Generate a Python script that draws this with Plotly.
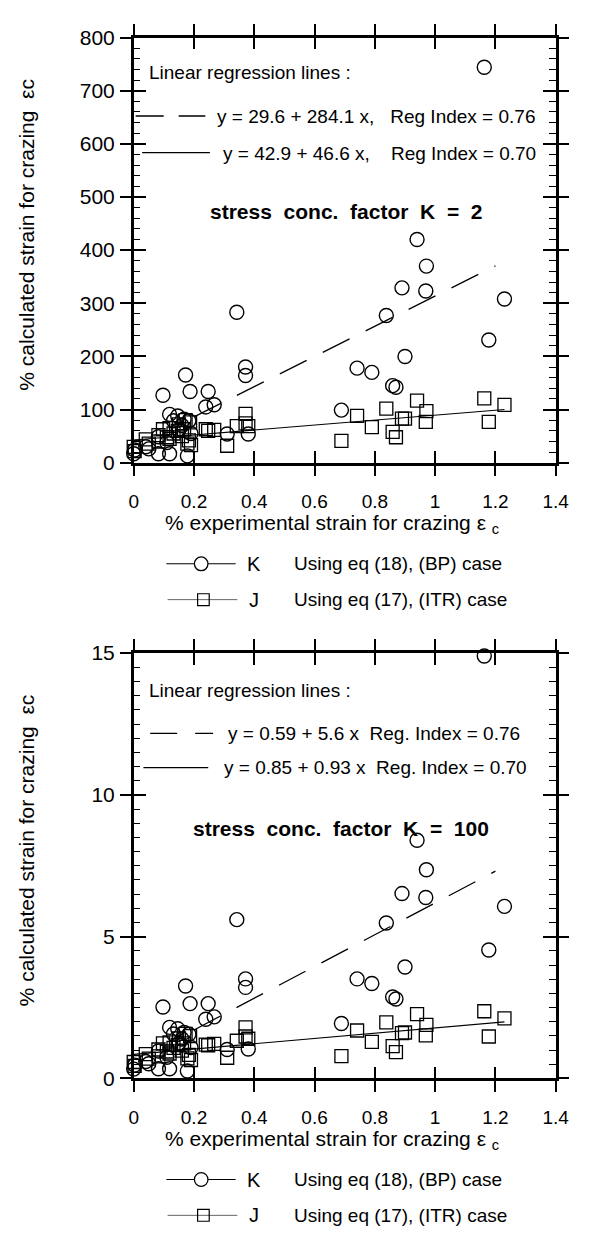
import numpy as np
import plotly.graph_objects as go

W, H = 591, 1234
FONT = "Liberation Sans, Arial, Helvetica, sans-serif"

# ---------------- data ----------------
strain_exp = [0.000, 0.003, 0.040, 0.050, 0.082, 0.082, 0.097, 0.110, 0.119, 0.119,
              0.132, 0.146, 0.150, 0.160, 0.167, 0.172, 0.178, 0.183, 0.187, 0.190,
              0.239, 0.247, 0.267, 0.310, 0.342, 0.371, 0.371, 0.380, 0.689, 0.741,
              0.790, 0.838, 0.859, 0.870, 0.890, 0.900, 0.940, 0.969, 0.971, 1.163,
              1.178, 1.230]

calc_K_k2 = [17, 24, 30, 26, 49, 17, 127, 38, 91, 17,
             79, 88, 62, 70, 82, 165, 13, 79, 134, 55,
             105, 134, 109, 54, 283, 180, 164, 54, 99, 178,
             170, 277, 145, 142, 329, 200, 420, 323, 370, 744,
             231, 308]
calc_J_k2 = [30, 22, 44, 36, 52, 40, 63, 48, 65, 45,
             55, 60, 72, 50, 63, 80, 36, 42, 76, 33,
             63, 60, 62, 32, 69, 92, 74, 69, 41, 88,
             67, 102, 58, 48, 83, 83, 117, 77, 97, 121,
             77, 109]

calc_K_k100 = [0.33, 0.47, 0.60, 0.52, 0.97, 0.34, 2.52, 0.75, 1.80, 0.34,
               1.57, 1.75, 1.23, 1.39, 1.62, 3.26, 0.26, 1.56, 2.64, 1.09,
               2.09, 2.64, 2.17, 1.02, 5.60, 3.51, 3.21, 1.04, 1.94, 3.51,
               3.35, 5.48, 2.87, 2.80, 6.52, 3.93, 8.40, 6.38, 7.36, 14.9,
               4.53, 6.07]
calc_J_k100 = [0.58, 0.44, 0.86, 0.70, 1.02, 0.78, 1.24, 0.95, 1.27, 0.88,
               1.08, 1.18, 1.41, 0.98, 1.24, 1.57, 0.71, 0.83, 1.49, 0.65,
               1.19, 1.17, 1.22, 0.73, 1.33, 1.80, 1.48, 1.40, 0.79, 1.69,
               1.29, 1.98, 1.14, 0.93, 1.60, 1.62, 2.27, 1.52, 1.89, 2.37,
               1.48, 2.12]

# regression lines: intercept, slope ; x extent drawn
reg_K_k2 = [29.6, 284.1]
reg_J_k2 = [42.9, 46.6]
reg_K_k100 = [0.59, 5.6]
reg_J_k100 = [0.85, 0.93]
reg_K_span = [0.2, 1.2]
reg_J_span = [0.0, 1.23]

x_range = [0, 1.4]
x_dtick = 0.2
y_range_k2 = [0, 800]
y_dtick_k2 = 100
y_minor_k2 = 20
y_range_k100 = [0, 15]
y_dtick_k100 = 5
y_minor_k100 = 0.5

eq_K_k2 = "y = 29.6 + 284.1 x,   Reg Index = 0.76"
eq_J_k2 = "y = 42.9 + 46.6 x,    Reg Index = 0.70"
eq_K_k100 = "y = 0.59 + 5.6 x  Reg. Index = 0.76"
eq_J_k100 = "y = 0.85 + 0.93 x  Reg. Index = 0.70"
title_k2 = "stress  conc.  factor  K  =  2"
title_k100 = "stress  conc.  factor  K  =  100"
legend_K = "Using eq (18), (BP) case"
legend_J = "Using eq (17), (ITR) case"
xtitle = "% experimental strain for crazing ε <sub>c</sub>"
ytitle = "% calculated strain for crazing  εc"


def px(x):
    return x / W


def py(y):
    return 1 - y / H


# plot-area positions (pixels)
X0, X1 = 133, 569
TOP = (26, 459.3)
BOT = (653.3, 1086.7)

fig = go.Figure()


def add_panel(xa, ya, yK, yJ, regK, regJ):
    xr = np.array(reg_K_span)
    fig.add_trace(go.Scatter(x=xr, y=regK[0] + regK[1] * xr, mode="lines",
                             line=dict(color="black", width=1.3, dash="30px,18px"),
                             xaxis=xa, yaxis=ya, showlegend=False, hoverinfo="skip"))
    xr = np.array(reg_J_span)
    fig.add_trace(go.Scatter(x=xr, y=regJ[0] + regJ[1] * xr, mode="lines",
                             line=dict(color="black", width=1.1),
                             xaxis=xa, yaxis=ya, showlegend=False, hoverinfo="skip"))
    fig.add_trace(go.Scatter(x=strain_exp, y=yK, mode="markers", name="K",
                             marker=dict(symbol="circle-open", size=14,
                                         line=dict(color="black", width=1.4), color="black"),
                             xaxis=xa, yaxis=ya, showlegend=False, cliponaxis=False))
    fig.add_trace(go.Scatter(x=strain_exp, y=yJ, mode="markers", name="J",
                             marker=dict(symbol="square-open", size=13,
                                         line=dict(color="black", width=1.3), color="black"),
                             xaxis=xa, yaxis=ya, showlegend=False, cliponaxis=False))


add_panel("x", "y", calc_K_k2, calc_J_k2, reg_K_k2, reg_J_k2)
add_panel("x2", "y2", calc_K_k100, calc_J_k100, reg_K_k100, reg_J_k100)

# shadow subplots (same place) carrying the inner half of the crossing ticks
for xa, ya in [("x3", "y3"), ("x4", "y4")]:
    fig.add_trace(go.Scatter(x=[None], y=[None], xaxis=xa, yaxis=ya,
                             showlegend=False, hoverinfo="skip"))

xdom = [px(X0), px(X1)]
ydom_top = [py(TOP[1]), py(TOP[0])]
ydom_bot = [py(BOT[1]), py(BOT[0])]

common = dict(showline=True, linecolor="black", linewidth=2.5, mirror="ticks",
              showgrid=False, zeroline=False, tickcolor="black", tickwidth=1.5,
              tickmode="linear", tick0=0, fixedrange=True)


def xaxis(anchor, inner):
    d = dict(common, range=x_range, dtick=x_dtick, domain=xdom, anchor=anchor)
    if inner:
        d.update(ticks="inside", ticklen=12, showticklabels=False)
    else:
        d.update(ticks="outside", ticklen=11, ticklabelstandoff=9,
                 tickfont=dict(family=FONT, size=19, color="black"))
    return d


def yaxis(anchor, dom, rng, dt, mdt, inner):
    d = dict(common, range=rng, dtick=dt, domain=dom, anchor=anchor)
    if inner:
        d.update(ticks="inside", ticklen=13, showticklabels=False,
                 minor=dict(ticks="inside", ticklen=7, tickwidth=1.2, dtick=mdt,
                            tick0=0, tickcolor="black", showgrid=False))
    else:
        d.update(ticks="outside", ticklen=11, ticklabelstandoff=1,
                 tickfont=dict(family=FONT, size=21, color="black"))
    return d


fig.update_layout(
    xaxis=xaxis("y", False),
    yaxis=yaxis("x", ydom_top, y_range_k2, y_dtick_k2, y_minor_k2, False),
    xaxis2=xaxis("y2", False),
    yaxis2=yaxis("x2", ydom_bot, y_range_k100, y_dtick_k100, y_minor_k100, False),
    xaxis3=xaxis("y3", True),
    yaxis3=yaxis("x3", ydom_top, y_range_k2, y_dtick_k2, y_minor_k2, True),
    xaxis4=xaxis("y4", True),
    yaxis4=yaxis("x4", ydom_bot, y_range_k100, y_dtick_k100, y_minor_k100, True),
)

annotations = []
shapes = []


def txt(text, x, y, size, anchor="left", bold=False, angle=0):
    annotations.append(dict(text=("<b>%s</b>" % text) if bold else text,
                            x=px(x), y=py(y), xref="paper", yref="paper",
                            xanchor=anchor, yanchor="middle", showarrow=False,
                            textangle=angle,
                            font=dict(family=FONT, size=size, color="black")))


def hline(x0, x1, y, width=1.2, dash="solid", color="black"):
    shapes.append(dict(type="line", xref="paper", yref="paper",
                       x0=px(x0), x1=px(x1), y0=py(y), y1=py(y),
                       line=dict(color=color, width=width, dash=dash)))


# ---- in-plot texts, top ----
txt("Linear regression lines :", 146.7, 61.7, 19)
hline(135, 207, 106, 1.3, "28px,15px")
txt(eq_K_k2, 216.7, 106.7, 19)
hline(141.7, 211.7, 143.3, 1.1)
txt(eq_J_k2, 223, 144, 19)
txt(title_k2, 210, 203.3, 21, bold=True)

# ---- in-plot texts, bottom ----
txt("Linear regression lines :", 146.7, 691.7, 19)
hline(150, 215, 735, 1.3, "27px,18px")
txt(eq_K_k100, 228.3, 735, 19)
hline(143, 210, 770, 1.1)
txt(eq_J_k100, 224, 770, 19)
txt(title_k100, 191.7, 831.7, 21, bold=True)

# ---- axis titles ----
for (t, b) in [TOP, BOT]:
    txt(xtitle, 338, b + 62.5, 21, anchor="center")
    txt(ytitle, 22, (t + b) / 2 - 16, 21, anchor="center", angle=-90)

# ---- legends below each panel ----
for b in [TOP[1], BOT[1]]:
    r1 = b + 103
    r2 = b + 139.5
    hline(166.7, 238.3, r1, 1.1)
    shapes.append(dict(type="circle", xref="paper", yref="paper",
                       x0=px(202.7 - 7), x1=px(202.7 + 7), y0=py(r1 + 7), y1=py(r1 - 7),
                       fillcolor="white", line=dict(color="black", width=1.3)))
    txt("K", 248, r1, 20)
    txt(legend_K, 296.7, r1, 19)
    hline(168, 240, r2, 1.0, color="#666666")
    shapes.append(dict(type="rect", xref="paper", yref="paper",
                       x0=px(205 - 6), x1=px(205 + 6), y0=py(r2 + 6), y1=py(r2 - 6),
                       line=dict(color="black", width=1.2)))
    txt("J", 250, r2, 20)
    txt(legend_J, 296.7, r2, 19)

fig.update_layout(
    width=W, height=H, autosize=False,
    margin=dict(l=0, r=0, t=0, b=0, pad=0),
    paper_bgcolor="white", plot_bgcolor="rgba(0,0,0,0)",
    annotations=annotations, shapes=shapes,
    showlegend=False,
    font=dict(family=FONT, color="black"),
)

fig.write_html("out.html", config={"displayModeBar": False},
               post_script="document.body.style.margin='0px';document.body.style.overflow='hidden';")
